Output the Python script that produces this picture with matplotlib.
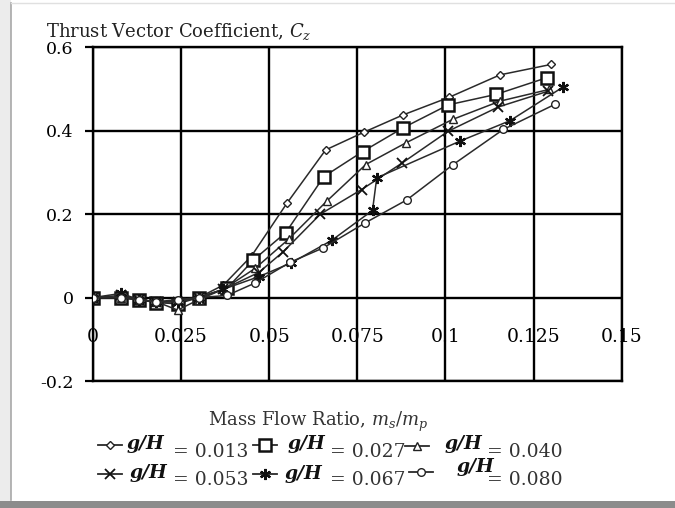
import matplotlib
matplotlib.use("Agg")
import matplotlib.pyplot as plt
from matplotlib.lines import Line2D
from matplotlib.patches import Rectangle

plt.rcParams['font.family'] = ['DejaVu Serif']
plt.rcParams['mathtext.fontset'] = 'dejavuserif'

# ---------------- data ----------------
x_ticks = [0, 0.025, 0.05, 0.075, 0.1, 0.125, 0.15]
x_tick_labels = ["0", "0.025", "0.05", "0.075", "0.1", "0.125", "0.15"]
y_ticks = [-0.2, 0, 0.2, 0.4, 0.6]
y_tick_labels = ["-0.2", "0", "0.2", "0.4", "0.6"]

gh_labels = ["0.013", "0.027", "0.040", "0.053", "0.067", "0.080"]

x_013 = [0, 0.008, 0.013, 0.018, 0.024, 0.030, 0.037, 0.045, 0.055, 0.066, 0.077, 0.088, 0.101, 0.1155, 0.130]
y_013 = [0, 0.0, -0.005, -0.010, -0.010, 0.0, 0.030, 0.100, 0.226, 0.354, 0.397, 0.438, 0.480, 0.534, 0.559]

x_027 = [0, 0.008, 0.013, 0.018, 0.024, 0.030, 0.038, 0.0455, 0.0547, 0.0655, 0.0765, 0.088, 0.1008, 0.1143, 0.1287]
y_027 = [0, 0.0, -0.005, -0.012, -0.015, 0.0, 0.022, 0.090, 0.156, 0.290, 0.350, 0.407, 0.462, 0.487, 0.527]

x_040 = [0, 0.008, 0.013, 0.018, 0.024, 0.030, 0.037, 0.046, 0.0555, 0.0663, 0.0774, 0.0888, 0.102, 0.1155, 0.1294]
y_040 = [0, 0.0, -0.005, -0.010, -0.030, -0.005, 0.020, 0.070, 0.140, 0.231, 0.319, 0.371, 0.427, 0.471, 0.499]

x_053 = [0, 0.008, 0.013, 0.018, 0.024, 0.030, 0.037, 0.047, 0.054, 0.0645, 0.0762, 0.0876, 0.1008, 0.115, 0.1292]
y_053 = [0, 0.005, -0.005, -0.010, -0.010, 0.0, 0.020, 0.060, 0.110, 0.200, 0.259, 0.322, 0.399, 0.457, 0.495]

x_067 = [0, 0.008, 0.013, 0.018, 0.024, 0.030, 0.037, 0.047, 0.0562, 0.0677, 0.0793, 0.0805, 0.1041, 0.1183, 0.1334]
y_067 = [0, 0.010, -0.005, -0.010, -0.010, 0.0, 0.020, 0.050, 0.083, 0.137, 0.209, 0.287, 0.375, 0.424, 0.505]

x_080 = [0, 0.008, 0.013, 0.018, 0.024, 0.030, 0.038, 0.046, 0.056, 0.0653, 0.0772, 0.089, 0.1022, 0.1164, 0.131]
y_080 = [0, 0.0, -0.005, -0.010, -0.005, 0.0, 0.005, 0.035, 0.085, 0.119, 0.179, 0.234, 0.319, 0.403, 0.463]

series_x = [x_013, x_027, x_040, x_053, x_067, x_080]
series_y = [y_013, y_027, y_040, y_053, y_067, y_080]

# ---------------- styles ----------------
styles = [
    dict(marker='D', ms=4.5, mfc='white', mec='#222222', mew=1.0),
    dict(marker='s', ms=8, mfc='white', mec='#111111', mew=1.8),
    dict(marker='^', ms=6, mfc='white', mec='#222222', mew=1.0),
    dict(marker='x', ms=7, mec='#111111', mew=1.3),
    dict(marker=(6, 2, 0), ms=8, mec='#111111', mew=1.6),
    dict(marker='o', ms=5.5, mfc='white', mec='#222222', mew=1.0),
]
line_color = '#2a2a2a'

W, H = 675, 508
def fx(px):
    return px / W
def fy(py):
    return 1 - py / H

fig = plt.figure(figsize=(6.75, 5.08), dpi=100)
fig.patch.set_facecolor('white')

# image frame / shadow
fig.patches.append(Rectangle((0, 0), fx(11), 1, transform=fig.transFigure,
                             facecolor='#ececec', edgecolor='none', zorder=0))
fig.lines.append(Line2D([fx(11), fx(11)], [fy(500), fy(3)], transform=fig.transFigure,
                        color='#a8a8a8', lw=1.2))
fig.patches.append(Rectangle((0, 0), 1, fy(501), transform=fig.transFigure,
                             facecolor='#8c8c8c', edgecolor='none', zorder=0))
fig.lines.append(Line2D([fx(11), 1], [fy(3), fy(3)], transform=fig.transFigure,
                        color='#e0e0e0', lw=1.0))

ax = fig.add_axes([fx(93), fy(381), (621.7 - 93) / W, (381 - 47.3) / H])
ax.set_facecolor('white')
ax.set_xlim(0, 0.15)
ax.set_ylim(-0.2, 0.6)

for xs, ys, st in zip(series_x, series_y, styles):
    ax.plot(xs, ys, color=line_color, lw=1.1, zorder=3, **st)

ax.set_xticks(x_ticks)
ax.set_xticklabels([])
ax.tick_params(axis='x', length=0)
ax.set_yticks(y_ticks)
ax.set_yticklabels(y_tick_labels, fontsize=12.5)
ax.tick_params(axis='y', direction='out', length=6, width=1.6, color='black', pad=8)
ax.grid(True, color='black', lw=1.7, zorder=1)
ax.set_axisbelow(True)
for s in ax.spines.values():
    s.set_color('black')
    s.set_linewidth(1.7)

# x tick labels sit just below the y=0 line
sec = ax.secondary_xaxis(0.25)
sec.set_xticks(x_ticks)
sec.set_xticklabels(x_tick_labels, fontsize=13.5)
sec.tick_params(length=0, pad=22)
sec.spines['bottom'].set_visible(False)

# titles
fig.text(fx(46), fy(37), r"Thrust Vector Coefficient, $C_z$", fontsize=13,
         ha='left', va='baseline', color='#222222')
fig.text(fx(208), fy(426), r"Mass Flow Ratio, $m_s/m_p$", fontsize=13,
         ha='left', va='baseline', color='#333333')

# legend (manual, matching the reference layout)
marker_cx = [110, 265, 417, 110, 265, 421]
marker_cy = [445, 445, 446, 474, 474, 472]
gh_x = [127, 288, 445, 130, 285, 457]
gh_base = [449, 449, 449, 478, 479, 472]
val_x = [173, 330, 487, 173, 330, 487]
val_base = [457, 457, 457, 485, 485, 485]

for i, lab in enumerate(gh_labels):
    cx, cy = marker_cx[i], marker_cy[i]
    st = dict(styles[i])
    fig.lines.append(Line2D([fx(cx - 12), fx(cx + 12)], [fy(cy), fy(cy)],
                            transform=fig.transFigure, color=line_color, lw=1.3))
    fig.lines.append(Line2D([fx(cx)], [fy(cy)], transform=fig.transFigure,
                            linestyle='none', **st))
    fig.text(fx(gh_x[i]), fy(gh_base[i]), "g/H", fontsize=13.5, fontweight='bold',
             fontstyle='italic', ha='left', va='baseline', color='#111111')
    fig.text(fx(val_x[i]), fy(val_base[i]), "= " + lab, fontsize=13.5,
             ha='left', va='baseline', color='#333333')

fig.savefig("out.png", dpi=100)
